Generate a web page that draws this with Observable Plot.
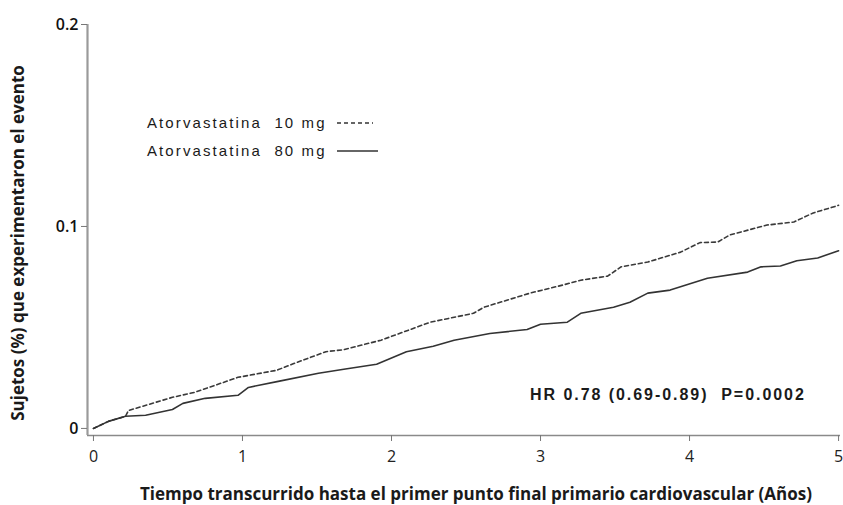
<!DOCTYPE html>
<html>
<head>
<meta charset="utf-8">
<script src="https://cdn.jsdelivr.net/npm/d3@7"></script>
<script src="https://cdn.jsdelivr.net/npm/@observablehq/plot@0.6"></script>
<style>
  html, body { margin: 0; padding: 0; background: #fff; }
</style>
</head>
<body>
<div id="chart"></div>
<script>
// ---- data ----
const seriesNames = ["Atorvastatina 10 mg", "Atorvastatina 80 mg"];
const years10 = [0, 0.1, 0.215, 0.235, 0.53, 0.68, 0.97, 1.23, 1.34, 1.56, 1.68, 1.93, 2.26, 2.55, 2.62, 2.93, 3.15, 3.27, 3.45, 3.54, 3.72, 3.94, 4.07, 4.19, 4.27, 4.52, 4.7, 4.83, 4.98, 5.0];
const events10 = [0, 0.0035, 0.006, 0.0089, 0.0154, 0.0179, 0.0253, 0.0288, 0.032, 0.038, 0.039, 0.0437, 0.0526, 0.057, 0.060, 0.067, 0.071, 0.0734, 0.0754, 0.080, 0.0824, 0.0873, 0.092, 0.0923, 0.0958, 0.1007, 0.1022, 0.1067, 0.110, 0.1105];
const years80 = [0, 0.1, 0.215, 0.35, 0.53, 0.6, 0.75, 0.97, 1.04, 1.24, 1.51, 1.68, 1.9, 2.1, 2.28, 2.42, 2.66, 2.91, 3.0, 3.18, 3.27, 3.49, 3.6, 3.72, 3.87, 4.12, 4.39, 4.48, 4.61, 4.72, 4.86, 5.0];
const events80 = [0, 0.0035, 0.006, 0.0065, 0.0094, 0.0124, 0.0149, 0.0164, 0.0203, 0.0233, 0.0273, 0.0293, 0.0318, 0.038, 0.0407, 0.0437, 0.047, 0.049, 0.0516, 0.0526, 0.057, 0.060, 0.0625, 0.067, 0.0685, 0.0744, 0.0774, 0.080, 0.0804, 0.083, 0.0844, 0.088];
const xTicks = [0, 1, 2, 3, 4, 5];
const yTicks = [0, 0.1, 0.2];
const yTickLabels = ["0", "0.1", "0.2"];
const xLabel = "Tiempo transcurrido hasta el primer punto final primario cardiovascular (Años)";
const yLabel = "Sujetos (%) que experimentaron el evento";
const hrText = "HR 0.78 (0.69-0.89)  P=0.0002";

const rows10 = years10.map((t, i) => ({t, v: events10[i]}));
const rows80 = years80.map((t, i) => ({t, v: events80[i]}));

const xMin = -0.04, yMin = -0.0035;

const plot = Plot.plot({
  width: 843,
  height: 505,
  marginLeft: 87,
  marginRight: 3,
  marginTop: 24,
  marginBottom: 70,
  style: {fontFamily: "'Open Sans', sans-serif", fontSize: "15px", color: "#222", background: "#fff"},
  x: {domain: [xMin, 5.013], label: null},
  y: {domain: [yMin, 0.2], label: null},
  marks: [
    Plot.ruleY([yMin], {stroke: "#8a8a8a", strokeWidth: 1.5}),
    Plot.ruleX([xMin], {y1: yMin, y2: 0.2, stroke: "#9a9a9a", strokeWidth: 2.2}),
    Plot.axisX({ticks: xTicks, tickSize: 6, tickPadding: 9, stroke: "#777", fill: "#222", fontSize: 16, label: null, tickFormat: d => String(d)}),
    Plot.axisY({ticks: yTicks, tickSize: 6, tickPadding: 3, stroke: "#777", fill: "#111", fontSize: 16, fontWeight: 600, label: null, tickFormat: d => yTickLabels[yTicks.indexOf(d)]}),
    Plot.line(rows10, {x: "t", y: "v", stroke: "#3a3a3a", strokeWidth: 1.6, strokeDasharray: "4,3"}),
    Plot.line(rows80, {x: "t", y: "v", stroke: "#333", strokeWidth: 1.6})
  ]
});

document.getElementById("chart").appendChild(plot);
const svg = d3.select(plot);

// HR annotation
svg.append("text")
  .attr("x", 530).attr("y", 400)
  .attr("text-anchor", "start")
  .attr("font-family", "'Liberation Sans', Arial, sans-serif")
  .attr("font-weight", "bold")
  .attr("font-size", 16)
  .attr("letter-spacing", "1.95px")
  .attr("fill", "#1a1a1a")
  .style("white-space", "pre")
  .text(hrText);

// axis titles
svg.append("text")
  .attr("transform", "translate(24,243) rotate(-90)")
  .attr("text-anchor", "middle")
  .attr("font-family", "'Open Sans', sans-serif")
  .attr("font-weight", "bold")
  .attr("font-size", 17)
  .attr("fill", "#1a1a1a")
  .text(yLabel);

svg.append("text")
  .attr("x", 476).attr("y", 500)
  .attr("text-anchor", "middle")
  .attr("font-family", "'Open Sans', sans-serif")
  .attr("font-weight", "bold")
  .attr("font-size", 17)
  .attr("fill", "#1a1a1a")
  .text(xLabel);

// legend
const legendY = [123, 151];
const legendDash = ["4,3", null];
seriesNames.forEach((name, i) => {
  svg.append("text")
    .attr("x", 147).attr("y", legendY[i] + 5)
    .attr("text-anchor", "start")
    .attr("font-family", "'Liberation Sans', Arial, sans-serif")
    .attr("font-size", 15)
    .attr("letter-spacing", "2.1px")
    .attr("fill", "#1a1a1a")
    .style("white-space", "pre")
    .text(name.replace(" 10", "  10").replace(" 80", "  80"));
  const ln = svg.append("line")
    .attr("x1", 337).attr("x2", i === 0 ? 373 : 378)
    .attr("y1", legendY[i]).attr("y2", legendY[i])
    .attr("stroke", "#333").attr("stroke-width", 1.5);
  if (legendDash[i]) ln.attr("stroke-dasharray", legendDash[i]);
});
</script>
</body>
</html>
